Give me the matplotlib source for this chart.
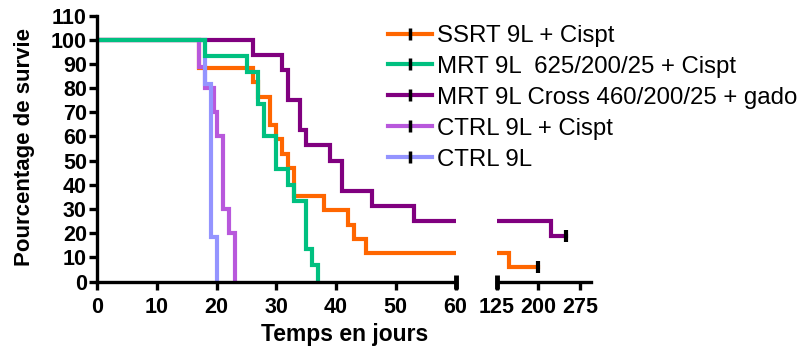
#!/usr/bin/env python3
"""
Kaplan-Meier survival curves (9L glioma) on a broken time axis.
"""

import matplotlib
matplotlib.use("Agg")
import matplotlib.pyplot as plt
from matplotlib.lines import Line2D

# --- Data ---
labels = [
    "SSRT 9L + Cispt",
    "MRT 9L  625/200/25 + Cispt",
    "MRT 9L Cross 460/200/25 + gado",
    "CTRL 9L + Cispt",
    "CTRL 9L",
]
colors = ["#FF6600", "#00C080", "#80007F", "#B858DC", "#9494FF"]

ssrt_t = [0, 17, 26, 27, 29, 30, 31, 32, 33, 38, 42, 43, 45, 147, 200]
ssrt_s = [100, 88.2, 82.4, 76.5, 64.7, 58.8, 52.9, 47.1, 35.3, 29.4, 23.5, 17.6, 11.8, 5.9, 5.9]

mrt_t = [0, 18, 25, 27, 28, 30, 32, 33, 35, 36, 37]
mrt_s = [100, 93.3, 86.7, 73.3, 60.0, 46.7, 40.0, 33.3, 13.3, 6.7, 0]

cross_t = [0, 26, 31, 32, 34, 35, 39, 41, 46, 53, 222, 250]
cross_s = [100, 93.8, 87.5, 75.0, 62.5, 56.3, 50.0, 37.5, 31.3, 25.0, 18.8, 18.8]

ctrl_cis_t = [0, 17, 18, 19.5, 20, 21, 22, 23]
ctrl_cis_s = [100, 88.9, 80, 70, 60, 30, 20, 0]

ctrl_t = [0, 18, 19, 20]
ctrl_s = [100, 81.8, 18.2, 0]

# censored points drawn as black ticks
censor_t = [200, 250]
censor_s = [5.9, 18.8]

left_ticks = [0, 10, 20, 30, 40, 50, 60]
right_ticks = [125, 200, 275]
y_ticks = list(range(0, 111, 10))

series = [
    (ssrt_t, ssrt_s, colors[0]),
    (cross_t, cross_s, colors[2]),
    (ctrl_cis_t, ctrl_cis_s, colors[3]),
    (ctrl_t, ctrl_s, colors[4]),
    (mrt_t, mrt_s, colors[1]),
]

plt.rcParams['font.family'] = ['Liberation Sans', 'DejaVu Sans']

W, H = 799, 347
fig = plt.figure(figsize=(W / 100, H / 100), dpi=100)

ax1 = fig.add_axes([97.3 / W, 65.5 / H, 358.2 / W, 266 / H])
ax2 = fig.add_axes([496.7 / W, 65.5 / H, 94 / W, 266 / H])

lw = 3
for ax in (ax1, ax2):
    for t, s, c in series:
        ax.step(t, s, where='post', color=c, lw=lw, solid_joinstyle='miter')
    ax.set_ylim(0, 110)
    for side in ('top', 'right'):
        ax.spines[side].set_visible(False)
    ax.spines['bottom'].set_linewidth(2.4)
    ax.spines['left'].set_linewidth(2.4)
    ax.tick_params(axis='both', direction='out', length=6, width=2.4,
                   labelsize=15.5)
    ax.tick_params(axis='x', pad=5)

ax1.set_xlim(0, 60)
ax1.set_xticks(left_ticks)
ax1.set_yticks(y_ticks)
ax1.tick_params(axis='y', pad=1.5)
for lab in ax1.get_xticklabels() + ax1.get_yticklabels():
    lab.set_fontweight('bold')

ax2.set_xlim(125, 294)
ax2.set_xticks(right_ticks)
ax2.spines['left'].set_visible(False)
ax2.set_yticks([])
for lab in ax2.get_xticklabels():
    lab.set_fontweight('bold')

# censor ticks
ax2.plot(censor_t, censor_s, linestyle='none', marker='|', color='k',
         markersize=9, markeredgewidth=3, clip_on=False, zorder=5)

# axis break caps
ax1.plot([60], [0], marker='|', color='k', markersize=10, markeredgewidth=3.5,
         clip_on=False, zorder=6)
ax2.plot([125], [0], marker='|', color='k', markersize=10, markeredgewidth=3.5,
         clip_on=False, zorder=6)

fig.text(25 / W, 1 - 147.5 / H, "Pourcentage de survie", rotation=90,
         ha='center', va='center', fontsize=16, fontweight='bold')
fig.text(345 / W, 1 - 334 / H, "Temps en jours", ha='center', va='center',
         fontsize=16.5, fontweight='bold')

handles = [Line2D([0], [0], color=c, lw=lw, marker='|', markeredgecolor='k',
                  markersize=8, markeredgewidth=2.5) for c in colors]
fig.legend(handles, labels, loc='upper left', bbox_to_anchor=(388 / W, 1 - 25 / H),
           frameon=False, fontsize=17.3, handlelength=1.85, handletextpad=0.2,
           labelspacing=0.37, borderpad=0, borderaxespad=0, numpoints=1)

fig.savefig("out.png", dpi=100)
